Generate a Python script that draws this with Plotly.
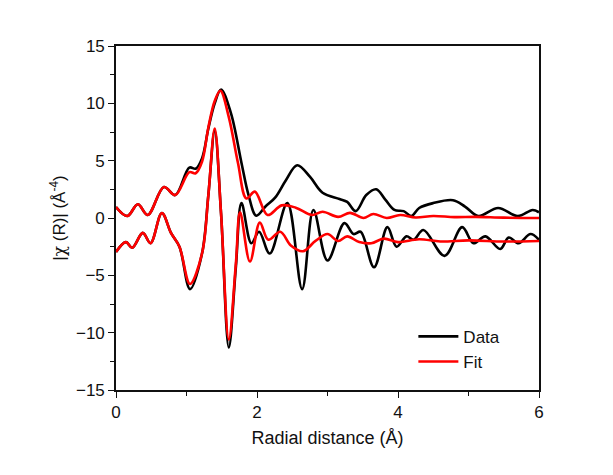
import plotly.graph_objects as go

# Data |chi(R)| magnitude
mag_data_x = [0, 0.16, 0.31, 0.45, 0.68, 0.84, 1.04, 1.13, 1.22, 1.31, 1.40, 1.49, 1.63, 1.78, 1.88, 1.99,
              2.12, 2.26, 2.41, 2.57, 2.75, 2.93, 3.17, 3.28, 3.40, 3.55, 3.69, 3.82, 3.95, 4.08, 4.19,
              4.30, 4.50, 4.78, 4.95, 5.14, 5.42, 5.70, 5.91, 6.0]
mag_data_y = [0.96, 0.17, 1.2, 0.26, 2.7, 2.0, 4.4, 4.3, 5.2, 7.8, 10.0, 11.2, 9.15, 4.8, 2.0, 0.2,
              1.0, 1.8, 3.3, 4.6, 3.6, 2.2, 1.66, 1.4, 0.6, 2.0, 2.5, 1.6, 0.7, 0.6, 0.17,
              0.87, 1.3, 1.55, 1.0, 0.17, 0.87, 0.17, 0.7, 0.5]

# Fit magnitude
mag_fit_x = [0, 0.16, 0.31, 0.45, 0.68, 0.84, 1.04, 1.13, 1.22, 1.31, 1.40, 1.48, 1.60, 1.73, 1.85, 1.97,
             2.15, 2.35, 2.55, 2.78, 2.93, 3.15, 3.32, 3.51, 3.65, 3.84, 4.03, 4.25, 4.5, 4.8, 5.1, 5.5, 6.0]
mag_fit_y = [0.96, 0.17, 1.2, 0.26, 2.7, 2.0, 4.0, 3.9, 4.9, 7.9, 10.2, 11.1, 8.8, 4.8, 1.7, 2.3,
             0.26, 1.1, 0.9, 0.26, 0.55, 0.1, 0.45, 0.0, 0.35, 0.0, 0.26, 0.05, 0.18, 0.08, 0.1, 0.03, 0.0]

# Data imaginary part (offset)
im_data_x = [0, 0.14, 0.23, 0.38, 0.49, 0.65, 0.78, 0.90, 1.05, 1.22, 1.31, 1.40, 1.49, 1.60, 1.70, 1.78,
             1.92, 2.03, 2.18, 2.43, 2.64, 2.80, 3.0, 3.24, 3.37, 3.47, 3.66, 3.85, 3.98, 4.12, 4.22,
             4.36, 4.66, 4.91, 5.07, 5.24, 5.45, 5.57, 5.71, 5.88, 6.0]
im_data_y = [-2.96, -2.1, -2.6, -1.3, -2.2, 0.44, -1.3, -2.5, -6.2, -3.1, 2.0, 7.6, 0.4, -11.3, -4.3, 1.3,
             -2.2, -1.2, -3.1, 1.3, -6.2, 0.7, -3.7, -0.45, -1.4, -1.2, -4.3, -0.8, -2.5, -1.6, -1.9,
             -1.05, -3.3, -0.8, -2.2, -1.6, -2.7, -1.7, -2.2, -1.4, -1.9]

# Fit imaginary part (offset)
im_fit_x = [0, 0.14, 0.23, 0.38, 0.49, 0.65, 0.78, 0.90, 1.05, 1.22, 1.31, 1.40, 1.49, 1.60, 1.70, 1.76,
            1.90, 2.04, 2.16, 2.33, 2.48, 2.65, 2.83, 3.0, 3.15, 3.28, 3.45, 3.62, 3.8, 4.0, 4.3, 4.6,
            5.0, 5.5, 6.0]
im_fit_y = [-2.96, -2.1, -2.6, -1.3, -2.2, 0.44, -1.3, -2.5, -5.75, -3.1, 2.0, 7.8, 0.4, -10.6, -4.0, 0.5,
            -3.8, -0.4, -1.9, -1.2, -2.4, -2.9, -2.0, -1.4, -2.0, -1.6, -2.1, -2.2, -1.8, -2.1, -1.85, -2.05,
            -1.95, -2.05, -2.0]

BLACK = "#000000"
RED = "#ff0000"
W = 2.6

fig = go.Figure()
fig.add_trace(go.Scatter(x=mag_data_x, y=mag_data_y, mode="lines", name="Data", legendgroup="d",
                         line=dict(color=BLACK, width=W, shape="spline", smoothing=1.0)))
fig.add_trace(go.Scatter(x=im_data_x, y=im_data_y, mode="lines", name="Data", legendgroup="d", showlegend=False,
                         line=dict(color=BLACK, width=W, shape="spline", smoothing=1.0)))
fig.add_trace(go.Scatter(x=mag_fit_x, y=mag_fit_y, mode="lines", name="Fit", legendgroup="f",
                         line=dict(color=RED, width=W, shape="spline", smoothing=1.0)))
fig.add_trace(go.Scatter(x=im_fit_x, y=im_fit_y, mode="lines", name="Fit", legendgroup="f", showlegend=False,
                         line=dict(color=RED, width=W, shape="spline", smoothing=1.0)))

font = "Liberation Sans, Arial, sans-serif"
fig.update_layout(
    width=613, height=475,
    margin=dict(l=116, r=74, t=46, b=85),
    paper_bgcolor="white", plot_bgcolor="white",
    font=dict(family=font, size=16, color="#111111"),
    showlegend=True,
    legend=dict(x=0.703, y=0.207, xanchor="left", yanchor="top", bgcolor="rgba(0,0,0,0)",
                font=dict(size=17, family=font, color="#111111"), tracegroupgap=0, itemwidth=40),
    xaxis=dict(range=[0, 6], dtick=2, tick0=0, showgrid=False, zeroline=False,
               showline=True, linecolor="#111111", linewidth=1.6, mirror=True,
               ticks="outside", ticklen=6, tickwidth=1.4, tickcolor="#111111",
               minor=dict(ticks="outside", dtick=1, ticklen=4, tickwidth=1.2, tickcolor="#111111"),
               tickfont=dict(size=17),
               title=dict(text="Radial distance (Å)", font=dict(size=18), standoff=10)),
    yaxis=dict(range=[-15, 15], dtick=5, tick0=0, showgrid=False, zeroline=False,
               showline=True, linecolor="#111111", linewidth=1.6, mirror=True,
               ticks="outside", ticklen=6, tickwidth=1.4, tickcolor="#111111",
               minor=dict(ticks="outside", dtick=2.5, ticklen=4, tickwidth=1.2, tickcolor="#111111"),
               tickfont=dict(size=17),
               title=dict(text="|<span style='font-family:DejaVu Serif'>χ</span> (R)| (Å<sup>-4</sup>)",
                          font=dict(size=17), standoff=6)),
)

fig.write_html("out.html")
